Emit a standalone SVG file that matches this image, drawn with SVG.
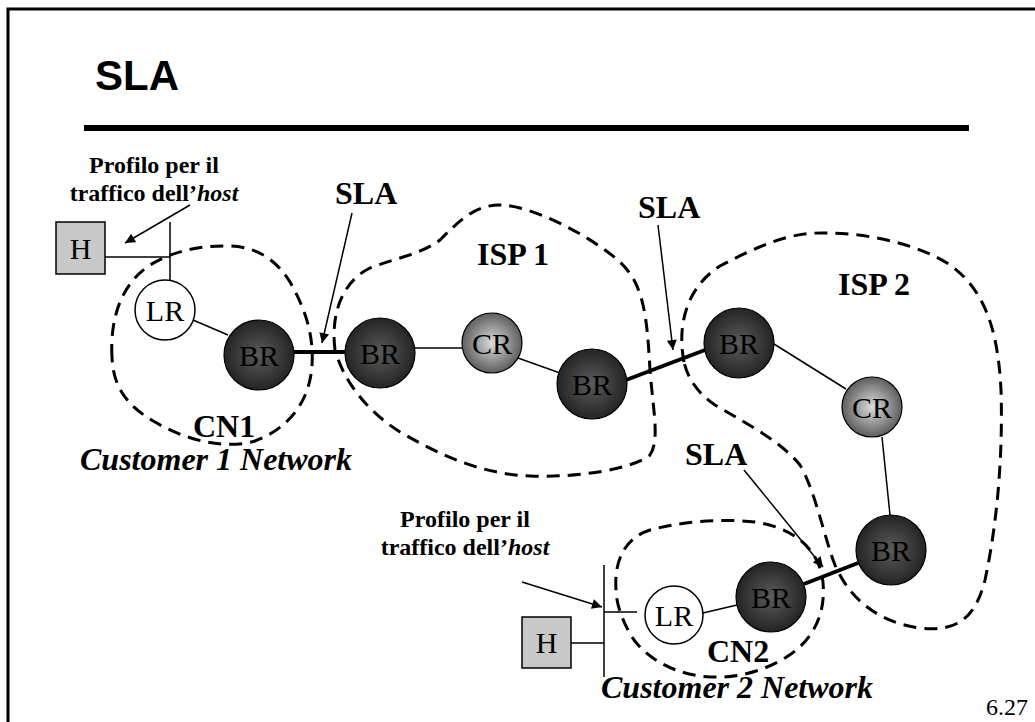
<svg xmlns="http://www.w3.org/2000/svg" width="1035" height="722" viewBox="0 0 1035 722">
<defs>
<radialGradient id="gBR" cx="50%" cy="50%" r="50%">
<stop offset="0" stop-color="#5c5c5c"/>
<stop offset="1" stop-color="#242424"/>
</radialGradient>
<radialGradient id="gCR" cx="50%" cy="50%" r="50%">
<stop offset="0" stop-color="#dcdcdc"/>
<stop offset="1" stop-color="#5e5e5e"/>
</radialGradient>
<marker id="arrL" viewBox="0 0 10 10" refX="10" refY="5" markerWidth="14" markerHeight="10" markerUnits="userSpaceOnUse" orient="auto">
<path d="M0,0 L10,5 L0,10 z" fill="#000"/>
</marker>
</defs>
<style>
.t{font-family:"Liberation Serif","Times New Roman",serif;fill:#000}
.b{font-weight:bold}
.bi{font-weight:bold;font-style:italic}
.lbl{font-size:32px}
.sm{font-size:24px}
.nl{font-family:"Liberation Serif","Times New Roman",serif;font-size:30px;fill:#000;text-anchor:middle}
.br{fill:url(#gBR);stroke:#000;stroke-width:1.2}
.cr{fill:url(#gCR);stroke:#000;stroke-width:1.2}
.lr{fill:#fff;stroke:#000;stroke-width:1.5}
.hb{fill:#c8c8c8;stroke:#000;stroke-width:1.5}
.dash{fill:none;stroke:#000;stroke-width:3;stroke-dasharray:13 8}
.thin{stroke:#000;stroke-width:1.5;fill:none}
.thick{stroke:#000;stroke-width:4;fill:none}
.ar{stroke:#000;stroke-width:1.5;fill:none;marker-end:url(#arrL)}
</style>
<rect x="0" y="0" width="1035" height="722" fill="#fff"/>
<!-- frame -->
<path d="M8,722 V9 H1035" fill="none" stroke="#000" stroke-width="3"/>
<text x="95" y="90" font-family="'Liberation Sans',Arial,sans-serif" font-weight="bold" font-size="42">SLA</text>
<line x1="84" y1="128" x2="969" y2="128" stroke="#000" stroke-width="6"/>

<!-- domain boundaries -->
<g id="boundaries">
<path id="cn1" class="dash" d="M112,357 C110,320 120,285 150,265 C175,250 200,246 227,246 C255,246 275,258 290,282 C305,308 314,335 312,365 C310,400 290,428 255,441 C225,450 185,440 155,422 C125,405 113,385 112,357 Z"/>
<path id="isp1" class="dash" d="M335,350 C330,310 345,280 370,268 C395,258 420,255 440,240 C460,220 475,205 500,205 C530,205 590,235 620,262 C645,285 647,320 650,370 C653,410 660,440 650,455 C635,468 580,478 530,476 C480,474 440,455 400,432 C370,413 345,385 335,350 Z"/>
<path id="isp2" class="dash" d="M684,362 C676,320 690,285 720,266 C760,245 790,232 825,233 C870,233 920,245 950,265 C985,290 998,330 1001,390 C1003,450 998,520 985,580 C975,620 955,632 920,628 C880,623 850,600 835,565 C825,540 815,490 800,465 C780,440 740,420 715,405 C700,395 688,380 684,362 Z"/>
<path id="cn2" class="dash" d="M616,590 C614,560 625,538 650,530 C680,522 720,518 755,522 C790,527 815,545 822,575 C828,610 815,640 785,658 C760,673 730,680 700,676 C670,672 640,655 628,630 C620,615 616,600 616,590 Z"/>
</g>

<!-- connectors -->
<g id="connectors">
<line class="thin" x1="105" y1="257" x2="170" y2="257"/>
<line class="thin" x1="170" y1="222" x2="170" y2="280"/>
<line class="thin" x1="193" y1="320" x2="228" y2="335"/>
<line class="thick" x1="294" y1="352" x2="345" y2="352"/>
<line class="thin" x1="415" y1="348" x2="462" y2="348"/>
<line class="thin" x1="518" y1="358" x2="560" y2="373"/>
<line class="thick" x1="626" y1="380" x2="705" y2="350"/>
<line class="thin" x1="774" y1="344" x2="846" y2="389"/>
<line class="thin" x1="882" y1="437" x2="890" y2="515"/>
<line class="thin" x1="703" y1="613" x2="737" y2="605"/>
<line class="thick" x1="804" y1="584" x2="858" y2="563"/>
<line class="thin" x1="571" y1="643" x2="604" y2="643"/>
<line class="thin" x1="604" y1="565" x2="604" y2="677"/>
<line class="thin" x1="604" y1="612" x2="637" y2="612"/>
<!-- annotation arrows -->
<line class="ar" x1="190" y1="205" x2="125" y2="243"/>
<line class="ar" x1="352" y1="213" x2="322" y2="343"/>
<line class="ar" x1="658" y1="225" x2="673" y2="350"/>
<line class="ar" x1="744" y1="470" x2="823" y2="567"/>
<line class="ar" x1="522" y1="582" x2="602" y2="607"/>
</g>

<!-- nodes -->
<g id="h1"><rect class="hb" x="56" y="222" width="49" height="52"/><text class="nl" x="80.5" y="259">H</text></g>
<g id="lr1"><circle class="lr" cx="165" cy="310" r="30"/><text class="nl" x="165" y="321">LR</text></g>
<g id="br1"><circle class="br" cx="259" cy="355" r="35"/><text class="nl" x="259" y="366">BR</text></g>
<g id="br2"><circle class="br" cx="380" cy="353" r="35"/><text class="nl" x="380" y="364">BR</text></g>
<g id="cr1"><circle class="cr" cx="492" cy="343" r="30"/><text class="nl" x="492" y="354">CR</text></g>
<g id="br3"><circle class="br" cx="592" cy="384" r="35"/><text class="nl" x="592" y="395">BR</text></g>
<g id="br4"><circle class="br" cx="739" cy="343" r="35"/><text class="nl" x="739" y="354">BR</text></g>
<g id="cr2"><circle class="cr" cx="872" cy="407" r="30"/><text class="nl" x="872" y="418">CR</text></g>
<g id="br5"><circle class="br" cx="891" cy="550" r="35"/><text class="nl" x="891" y="561">BR</text></g>
<g id="br6"><circle class="br" cx="771" cy="597" r="35"/><text class="nl" x="771" y="608">BR</text></g>
<g id="lr2"><circle class="lr" cx="674" cy="615" r="29"/><text class="nl" x="674" y="626">LR</text></g>
<g id="h2"><rect class="hb" x="522" y="617" width="49" height="51"/><text class="nl" x="546.5" y="653">H</text></g>

<!-- labels -->
<g id="labels">
<text class="t b sm" x="154" y="173" text-anchor="middle">Profilo per il</text>
<text class="t b sm" x="154" y="201" text-anchor="middle">traffico dell’<tspan class="bi">host</tspan></text>
<text class="t b lbl" x="335" y="204">SLA</text>
<text class="t b lbl" x="477" y="265">ISP 1</text>
<text class="t b lbl" x="638" y="218">SLA</text>
<text class="t b lbl" x="838" y="295">ISP 2</text>
<text class="t b lbl" x="685" y="465">SLA</text>
<text class="t b lbl" x="193" y="437">CN1</text>
<text class="t bi lbl" x="80" y="470">Customer 1 Network</text>
<text class="t b sm" x="465" y="527" text-anchor="middle">Profilo per il</text>
<text class="t b sm" x="465" y="555" text-anchor="middle">traffico dell’<tspan class="bi">host</tspan></text>
<text class="t b lbl" x="707" y="662">CN2</text>
<text class="t bi lbl" x="601" y="698">Customer 2 Network</text>
<text class="t" x="986" y="715" font-size="24">6.27</text>
</g>
</svg>
